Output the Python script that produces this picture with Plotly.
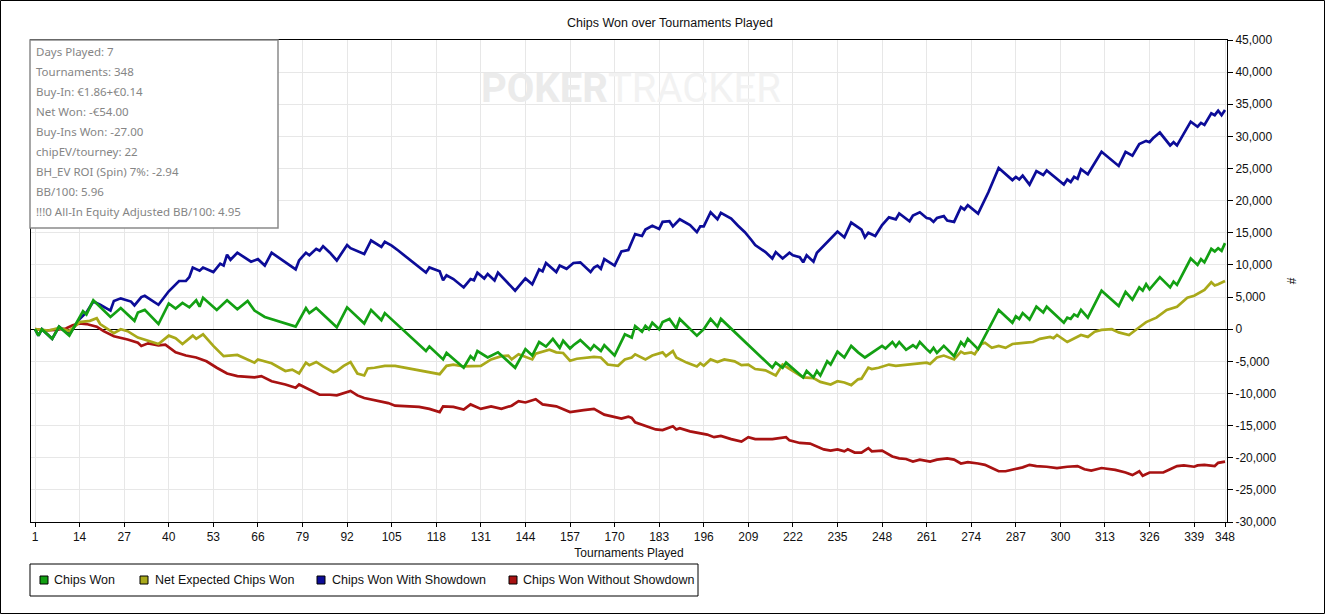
import plotly.graph_objects as go

# ---- data ----
x_ticks = [1, 14, 27, 40, 53, 66, 79, 92, 105, 118, 131, 144, 157, 170, 183, 196,
           209, 222, 235, 248, 261, 274, 287, 300, 313, 326, 339, 348]
y_ticks = [45000, 40000, 35000, 30000, 25000, 20000, 15000, 10000, 5000, 0,
           -5000, -10000, -15000, -20000, -25000, -30000]
y_tick_labels = ["45,000", "40,000", "35,000", "30,000", "25,000", "20,000", "15,000",
                 "10,000", "5,000", "0", "-5,000", "-10,000", "-15,000", "-20,000",
                 "-25,000", "-30,000"]

stats_lines = [
    "Days Played: 7",
    "Tournaments: 348",
    "Buy-In: €1.86+€0.14",
    "Net Won: -€54.00",
    "Buy-Ins Won: -27.00",
    "chipEV/tourney: 22",
    "BH_EV ROI (Spin) 7%: -2.94",
    "BB/100: 5.96",
    "!!!0 All-In Equity Adjusted BB/100: 4.95",
]

chips_won_t = [1, 2, 3, 6, 8, 11, 15, 16, 18, 23, 26, 30, 31, 33, 37, 40, 42, 44, 46, 48,
               49, 50, 54, 57, 60, 63, 65, 68, 77, 80, 81, 83, 89, 92, 97, 99, 102, 103,
               115, 116, 120, 121, 126, 128, 129, 130, 133, 136, 141, 144, 146, 148, 150,
               152, 154, 155, 157, 158, 160, 163, 164, 166, 167, 170, 173, 175, 176, 178,
               179, 180, 181, 183, 184, 186, 188, 189, 194, 196, 198, 200, 201, 216, 217,
               219, 220, 225, 226, 228, 229, 230, 232, 233, 235, 237, 239, 241, 243, 246,
               248, 249, 251, 252, 253, 255, 257, 258, 259, 261, 262, 263, 264, 266, 269,
               271, 272, 273, 276, 282, 286, 287, 288, 289, 291, 293, 295, 296, 301, 302,
               303, 304, 305, 306, 308, 312, 317, 319, 321, 323, 324, 325, 326, 329, 332,
               333, 334, 338, 340, 341, 342, 344, 345, 346, 347, 348]
chips_won = [0, -1000, 0, -1500, 400, -1000, 2800, 2300, 4500, 1900, 3300, 1300, 2600, 3000,
             800, 4000, 3200, 4100, 3400, 4500, 3500, 4900, 3000, 4500, 3100, 4400, 2900,
             1900, 400, 3300, 2500, 3300, 300, 3400, 900, 3000, 1400, 2500, -3400, -2700,
             -4700, -3700, -6000, -4200, -4700, -3400, -4400, -3600, -6000, -3100, -4100,
             -2000, -2700, -1500, -2900, -1800, -3000, -2500, -1700, -3200, -2500, -3400,
             -2500, -4100, -800, -1300, 500, -400, 500, 0, 1000, 0, 1100, 1600, 100, 1600,
             -1000, 0, 1600, 400, 1600, -6000, -5200, -6000, -5200, -7500, -6500, -7500,
             -6500, -7200, -5000, -5500, -3500, -4400, -2600, -3600, -4400, -3400, -2600,
             -3000, -2000, -2700, -2000, -3200, -2500, -2900, -2000, -3100, -3600, -2900,
             -3700, -2600, -4200, -2000, -2600, -1500, -3100, 3000, 1000, 2000, 1600, 2500,
             1500, 3500, 2600, 3500, 1000, 1800, 1600, 2300, 2000, 3000, 1800, 6000, 3600,
             5800, 4600, 6500, 6000, 7000, 6200, 8100, 6500, 7400, 6900, 11000, 10000,
             10900, 10400, 12500, 12100, 12600, 12200, 13400]

net_expected_t = [1, 5, 8, 11, 14, 17, 19, 20, 24, 26, 28, 31, 34, 37, 40, 42, 44, 47, 48,
                  50, 53, 56, 60, 65, 66, 70, 74, 76, 78, 80, 81, 83, 85, 88, 89, 91, 93,
                  94, 95, 97, 98, 100, 103, 106, 109, 112, 116, 119, 121, 123, 126, 131,
                  134, 137, 139, 140, 142, 146, 147, 151, 153, 155, 157, 159, 164, 166,
                  168, 171, 173, 175, 176, 179, 181, 184, 185, 187, 188, 191, 194, 195,
                  196, 198, 200, 202, 205, 207, 209, 211, 214, 217, 219, 221, 225, 228,
                  230, 233, 235, 237, 239, 241, 242, 244, 245, 247, 250, 252, 255, 258,
                  261, 262, 264, 266, 269, 271, 272, 274, 275, 277, 278, 280, 282, 284,
                  286, 290, 292, 294, 297, 298, 299, 302, 304, 306, 308, 310, 312, 315,
                  317, 320, 323, 325, 328, 331, 334, 337, 339, 342, 344, 345, 346, 348]
net_expected = [0, -200, 200, -300, 1100, 1300, 1700, 800, -600, 0, -300, -1300, -1800,
                -2300, -1000, -1400, -2300, -1000, -1500, -800, -2600, -4200, -4000, -5200,
                -4700, -5300, -6500, -6300, -6900, -5200, -5600, -5100, -5800, -6700, -6500,
                -5700, -5100, -6000, -6900, -7200, -6100, -6000, -5700, -5700, -6000, -6400,
                -6700, -7000, -5700, -5500, -5800, -5700, -4700, -4200, -4100, -4700, -3900,
                -4700, -3800, -3200, -3600, -3700, -4900, -4600, -4300, -4400, -5500, -5700,
                -4700, -4400, -3900, -4700, -4100, -3600, -4200, -3400, -4400, -5200, -5800,
                -5300, -5700, -4700, -5100, -4700, -5000, -5600, -5500, -6200, -6400, -7200,
                -5500, -6200, -7500, -7600, -8200, -8600, -8100, -8300, -8700, -7800, -7700,
                -6000, -6200, -6000, -5500, -5700, -5500, -5300, -5200, -5400, -4400, -4100,
                -4700, -3500, -3800, -3600, -3900, -2300, -2100, -2900, -2600, -2900, -2300,
                -2100, -2000, -1500, -1200, -1400, -900, -2000, -1500, -900, -1200, -400,
                -100, 0, -500, -900, 300, 1100, 1800, 3000, 3500, 4900, 5200, 6100, 7300,
                6800, 7000, 7500]

with_showdown_t = [1, 2, 3, 6, 8, 11, 14, 16, 18, 20, 23, 24, 26, 29, 30, 32, 33, 37, 40, 43,
                   45, 46, 47, 49, 50, 53, 55, 56, 57, 58, 60, 64, 66, 68, 70, 74, 77, 78,
                   80, 81, 83, 84, 85, 87, 89, 92, 93, 97, 99, 102, 103, 105, 107, 115, 116,
                   119, 120, 121, 123, 126, 128, 129, 130, 132, 133, 135, 136, 141, 144, 146,
                   148, 149, 150, 153, 154, 156, 158, 160, 163, 164, 165, 166, 167, 170, 172,
                   174, 176, 178, 179, 181, 183, 184, 186, 187, 189, 192, 194, 195, 196, 198,
                   200, 201, 204, 206, 208, 210, 211, 214, 216, 217, 219, 221, 222, 224, 225,
                   226, 228, 229, 232, 235, 237, 239, 242, 243, 244, 246, 248, 250, 252, 253,
                   256, 257, 259, 261, 262, 263, 264, 266, 267, 269, 271, 272, 273, 276, 279,
                   282, 286, 287, 288, 289, 291, 293, 295, 296, 301, 302, 303, 304, 305, 306,
                   308, 312, 317, 319, 321, 323, 325, 326, 327, 329, 332, 333, 334, 338, 340,
                   341, 342, 344, 345, 346, 347, 348]
with_showdown = [0, -1000, 0, -1500, 400, -800, 1600, 2600, 4300, 3800, 2900, 4400, 4800,
                 4300, 3700, 5000, 5200, 3800, 5900, 7500, 7500, 8100, 9600, 9100, 9600, 8900,
                 10200, 9900, 11600, 10800, 11900, 10500, 10900, 9900, 11900, 10400, 9300,
                 10700, 11900, 11500, 12500, 12200, 12900, 11900, 10700, 13100, 12600, 11700,
                 13800, 12800, 13600, 13000, 12200, 8800, 9600, 9000, 7600, 8400, 7800, 6500,
                 7800, 7600, 8800, 7900, 8600, 7600, 8800, 6000, 7900, 7000, 9300, 9000, 10300,
                 8900, 9900, 9400, 10300, 10400, 8900, 9600, 9900, 9400, 10900, 9900, 12100,
                 12300, 14800, 14500, 15500, 16100, 15600, 16700, 16800, 16000, 17100, 16200,
                 15100, 16000, 16000, 18200, 17100, 18100, 17200, 16100, 15100, 13800, 13100,
                 12000, 11000, 12000, 11000, 11900, 11500, 11200, 10400, 11500, 10500, 11900,
                 13600, 15200, 14300, 16600, 15500, 14300, 15000, 14500, 16200, 17400, 17100,
                 18000, 16800, 17700, 18200, 17300, 17200, 16700, 17300, 17600, 16900, 16700,
                 19000, 18600, 19300, 18000, 21300, 25100, 23200, 23700, 23300, 23900, 22500,
                 24600, 24000, 24700, 22500, 23300, 22900, 23700, 23400, 24900, 24100, 27600,
                 25400, 27600, 27000, 28800, 29300, 29100, 29700, 30600, 28600, 29100, 28600,
                 32300, 31500, 32100, 31800, 33600, 33300, 34000, 33300, 34100]

without_showdown_t = [1, 4, 7, 10, 12, 14, 16, 19, 21, 24, 28, 31, 32, 34, 37, 39, 42, 45, 48,
                      51, 54, 57, 60, 65, 67, 70, 74, 77, 78, 81, 84, 87, 89, 93, 95, 97, 101,
                      104, 106, 109, 113, 116, 119, 120, 123, 126, 128, 131, 134, 137, 140,
                      142, 144, 147, 149, 153, 157, 161, 164, 167, 171, 172, 174, 175, 176,
                      179, 182, 184, 187, 188, 189, 192, 197, 199, 201, 204, 207, 209, 211,
                      216, 220, 221, 224, 227, 231, 233, 235, 237, 238, 240, 242, 244, 245,
                      248, 251, 253, 255, 257, 259, 262, 264, 267, 269, 271, 273, 276, 278,
                      280, 282, 284, 287, 289, 291, 293, 296, 299, 302, 305, 307, 309, 312,
                      316, 319, 321, 323, 324, 326, 330, 332, 334, 336, 339, 340, 342, 345,
                      346, 348]
without_showdown = [0, -200, -100, 100, 600, 900, 800, 400, -300, -1100, -1600, -2100, -2600,
                    -2200, -2500, -2400, -3600, -4100, -4400, -5000, -6000, -6900, -7300,
                    -7500, -7300, -8100, -8600, -9100, -8600, -9400, -10200, -10200, -10300,
                    -9600, -10300, -10700, -11200, -11500, -11900, -12000, -12100, -12400,
                    -12900, -12000, -12100, -12500, -11700, -12400, -12000, -12400, -11900,
                    -11200, -11400, -10900, -11700, -12000, -12900, -12600, -12400, -13300,
                    -13800, -13900, -13600, -13800, -14500, -15000, -15600, -15700, -15100,
                    -15600, -15400, -15900, -16400, -16800, -16600, -17100, -17500, -16800,
                    -17100, -17100, -16800, -17300, -17700, -17800, -18700, -18900, -18700,
                    -19000, -18700, -19200, -19200, -18500, -19000, -18900, -19800, -20100,
                    -20200, -20600, -20300, -20600, -20300, -20100, -20300, -20900, -20700,
                    -20900, -21100, -21600, -22100, -22100, -21800, -21500, -21100, -21300,
                    -21400, -21600, -21400, -21300, -21800, -22000, -21600, -21900, -22300,
                    -22700, -22100, -22800, -22300, -22300, -21800, -21300, -21200, -21400,
                    -21200, -21100, -21300, -20800, -20600]

series = [
    ("Chips Won", chips_won_t, chips_won, "#13a013"),
    ("Net Expected Chips Won", net_expected_t, net_expected, "#a9a91a"),
    ("Chips Won With Showdown", with_showdown_t, with_showdown, "#0c0c98"),
    ("Chips Won Without Showdown", without_showdown_t, without_showdown, "#a81212"),
]

# plot area in pixels: x 31..1227, y 40..522
def px(x):
    return (x - 31) / 1196

def py(y):
    return (522 - y) / 482

fig = go.Figure()

# draw the red/blue ones underneath, green last like the original
for name, t, v, color in [series[3], series[2], series[1], series[0]]:
    fig.add_trace(go.Scatter(x=t, y=v, name=name, mode="lines",
                             line=dict(color=color, width=2.7), showlegend=False))

axis_font = dict(family="Liberation Sans, Arial, sans-serif", size=12, color="#111111")

fig.update_xaxes(range=[-0.17, 348.58], tickvals=x_ticks, ticks="outside", ticklen=4,
                 tickcolor="black", showline=True, linecolor="black", linewidth=1,
                 mirror=True, showgrid=True, gridcolor="#e7e7e7", zeroline=False,
                 tickfont=axis_font,
                 title=dict(text="Tournaments Played", font=axis_font, standoff=5))
fig.update_yaxes(range=[-30000, 45000], side="right", tickvals=y_ticks,
                 ticktext=y_tick_labels, ticks="outside", ticklen=5, tickcolor="black",
                 showline=True, linecolor="black", linewidth=1, mirror=True,
                 showgrid=True, gridcolor="#e7e7e7", zeroline=True,
                 zerolinecolor="black", zerolinewidth=1, tickfont=axis_font,
                 title=dict(text="#", font=axis_font, standoff=12))

shapes = []
annotations = []

# outer frame of the picture
shapes.append(dict(type="rect", xref="paper", yref="paper", x0=px(0.5), x1=px(1324.5),
                   y0=py(613.5), y1=py(0.5), line=dict(color="black", width=1)))

# stats box
shapes.append(dict(type="rect", xref="paper", yref="paper", x0=px(30), x1=px(278),
                   y0=py(228), y1=py(40), fillcolor="white", layer="above",
                   line=dict(color="#8a8a8a", width=1.5)))
for i, line in enumerate(stats_lines):
    annotations.append(dict(text=line, xref="paper", yref="paper", x=px(34),
                            y=py(51.5 + 20 * i), xanchor="left", yanchor="middle",
                            showarrow=False,
                            font=dict(family="Noto Sans, sans-serif", size=11.5,
                                      color="#858585")))

# watermark
annotations.append(dict(text="<b>POKER</b><span style='color:#f2f2f2'>TRACKER</span>",
                        xref="paper", yref="paper", x=px(631), y=py(88),
                        xanchor="center", yanchor="middle", showarrow=False,
                        font=dict(family="Roboto, sans-serif", size=40, color="#ebebeb")))

# legend box at the bottom
shapes.append(dict(type="rect", xref="paper", yref="paper", x0=px(30), x1=px(698),
                   y0=py(596), y1=py(564), line=dict(color="black", width=1)))
sq_x = [40, 140, 317, 509]
txt_x = [52, 153, 330, 521]
for (name, t, v, color), sx, tx in zip(series, sq_x, txt_x):
    shapes.append(dict(type="rect", xref="paper", yref="paper", x0=px(sx), x1=px(sx + 8),
                       y0=py(584), y1=py(576), fillcolor=color,
                       line=dict(color="black", width=1)))
    annotations.append(dict(text=name, xref="paper", yref="paper", x=px(tx), y=py(580),
                            xanchor="left", yanchor="middle", showarrow=False,
                            font=dict(family="Liberation Sans, Arial, sans-serif",
                                      size=12.5, color="#111111")))

fig.update_layout(
    width=1325, height=614,
    margin=dict(l=31, r=98, t=40, b=92),
    paper_bgcolor="white", plot_bgcolor="white",
    showlegend=False,
    # title x/y are fractions of the whole figure, not of the plot area
    title=dict(text="Chips Won over Tournaments Played", x=670 / 1325, y=1 - 22.3 / 614,
               xanchor="center", yanchor="middle",
               font=dict(family="Liberation Sans, Arial, sans-serif", size=12.5,
                         color="#111111")),
    shapes=shapes,
    annotations=annotations,
)

# page has a default 8px body margin; drop it so the chart sits at the window corner
fig.write_html("out.html", config={"displayModeBar": False},
               post_script="document.body.style.margin = '0';")
